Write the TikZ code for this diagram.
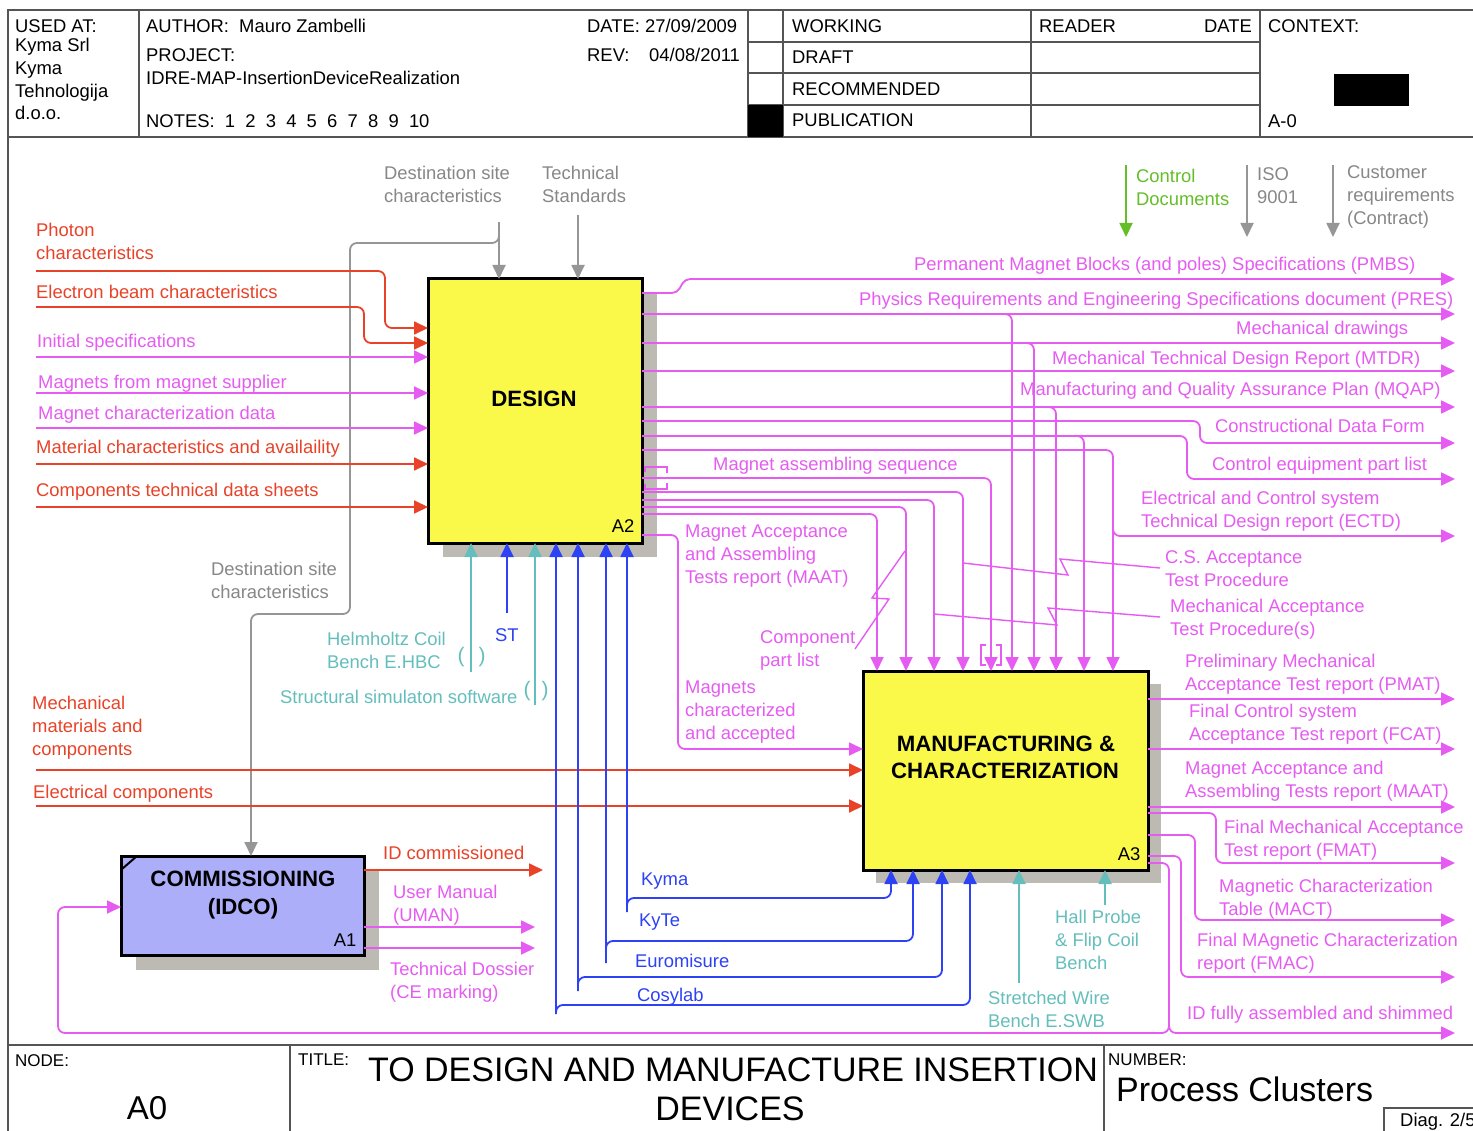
\documentclass[tikz,border=0pt]{standalone}
\usepackage{fontspec}
\setmainfont{Liberation Sans}
\usetikzlibrary{arrows.meta}
\definecolor{cred}{RGB}{232,66,40}
\definecolor{cmag}{RGB}{230,92,242}
\definecolor{cgray}{RGB}{150,150,150}
\definecolor{cgrayt}{RGB}{135,135,135}
\definecolor{cgreen}{RGB}{100,190,40}
\definecolor{cteal}{RGB}{100,190,188}
\definecolor{cblue}{RGB}{45,65,245}
\definecolor{cyel}{RGB}{250,248,72}
\definecolor{clav}{RGB}{172,174,250}
\definecolor{cshadow}{RGB}{188,186,178}
\definecolor{cframe}{RGB}{85,85,85}
\newcommand\lb{\fontsize{18.4}{23}\selectfont}
\newcommand\smf{\fontsize{17}{20}\selectfont}
\newcommand\bxf{\fontsize{22.2}{27}\selectfont\bfseries}
\newcommand\bigf{\fontsize{34}{39}\selectfont}
\newcommand\mylab[5]{\node[lbl,text=#2] (#1) at (#3,#4) {#5};}
\begin{document}
\begin{tikzpicture}[x=1pt,y=-1pt,
  con/.style={line width=1.8pt, rounded corners=7pt},
  arr/.style={con, -{Triangle[length=14pt,width=13pt]}},
  zig/.style={line width=1.4pt, cmag},
  lbl/.style={inner sep=0pt, anchor=north west, yshift=6.8pt, font=\lb, align=left},
  box/.style={draw=black, line width=3pt, inner sep=0pt, outer sep=0pt},
  frm/.style={draw=cframe, line width=2pt}]
\useasboundingbox (0,0) rectangle (1473,1131);
\fill[white] (0,0) rectangle (1473,1131);

% ---------- frame ----------
\draw[frm] (1473,10) -- (8,10) -- (8,1131);
\draw[frm] (8,137) -- (1473,137);
\draw[frm] (8,1045) -- (1473,1045);
\foreach \x in {139,748,783,1031,1260} \draw[frm] (\x,10) -- (\x,137);
\foreach \y in {42,73,105} \draw[frm] (748,\y) -- (1260,\y);
\fill (748,105) rectangle (783,137);
\fill (1334,74) rectangle (1409,106);
\draw[frm] (290,1045) -- (290,1131);
\draw[frm] (1104,1045) -- (1104,1131);
\draw[frm] (1384,1131) -- (1384,1108) -- (1473,1108);

% ---------- header texts ----------
\mylab{usedat}{black}{15}{26}{USED AT:}
\mylab{kymasrl}{black}{15}{45}{Kyma Srl}
\mylab{kymat}{black}{15}{68}{Kyma}
\mylab{tehno}{black}{15}{91}{Tehnologija}
\mylab{doo}{black}{15}{113}{d.o.o.}
\mylab{author}{black}{146}{26}{AUTHOR:\ \ Mauro Zambelli}
\mylab{project}{black}{146}{55}{PROJECT:}
\mylab{projname}{black}{146}{78}{IDRE-MAP-InsertionDeviceRealization}
\mylab{notes}{black}{146}{121}{NOTES:\ \ 1\ \ 2\ \ 3\ \ 4\ \ 5\ \ 6\ \ 7\ \ 8\ \ 9\ \ 10}
\mylab{date}{black}{587}{26}{DATE: 27/09/2009}
\mylab{rev}{black}{587}{55}{REV:}
\mylab{revd}{black}{649}{55}{04/08/2011}
\mylab{working}{black}{792}{26}{WORKING}
\mylab{draft}{black}{792}{57}{DRAFT}
\mylab{recomm}{black}{792}{89}{RECOMMENDED}
\mylab{public}{black}{792}{120}{PUBLICATION}
\mylab{reader}{black}{1039}{26}{READER}
\node[lbl, anchor=north east] (datecol) at (1252,26) {DATE};
\mylab{context}{black}{1268}{26}{CONTEXT:}
\mylab{azero}{black}{1268}{121}{A-0}

% ---------- footer ----------
\node[lbl, font=\smf] (nodelbl) at (15,1061) {NODE:};
\node[font=\fontsize{33}{38}\selectfont, anchor=base, inner sep=0pt] (nodeval) at (147,1119) {A0};
\node[lbl, font=\smf] (titlelbl) at (298,1060) {TITLE:};
\node[font=\bigf, anchor=base, inner sep=0pt] (title1) at (733,1081) {TO DESIGN AND MANUFACTURE INSERTION};
\node[font=\bigf, anchor=base, inner sep=0pt] (title2) at (730,1120) {DEVICES};
\node[lbl, font=\smf] (numberlbl) at (1108,1060) {NUMBER:};
\node[font=\bigf, anchor=base west, inner sep=0pt] (numberval) at (1116,1101) {Process Clusters};
\mylab{diag}{black}{1400}{1120}{Diag. 2/5}

% ---------- boxes ----------
\fill[cshadow] (443,293) rectangle (657,557);
\fill[cshadow] (876,684) rectangle (1161,883);
\fill[cshadow] (136,871) rectangle (379,970);
\node[box, fill=cyel, minimum width=214pt, minimum height=264pt] (design) at (535,411) {};
\node[box, fill=cyel, minimum width=285pt, minimum height=199pt] (manu) at (1005.5,770.5) {};
\node[box, fill=clav, minimum width=243pt, minimum height=99pt] (comm) at (242.5,905.5) {};
\draw[line width=2pt] (122,869) -- (137,856);
\node[font=\bxf, inner sep=0pt] (designlbl) at (534,399) {DESIGN};
\node[font=\bxf, inner sep=0pt, anchor=base] (manulbl1) at (1006,751) {MANUFACTURING \&};
\node[font=\bxf, inner sep=0pt, anchor=base] (manulbl2) at (1005,778) {CHARACTERIZATION};
\node[font=\bxf, inner sep=0pt, anchor=base] (commlbl1) at (243,886) {COMMISSIONING};
\node[font=\bxf, inner sep=0pt, anchor=base] (commlbl2) at (243,914) {(IDCO)};
\node[font=\lb, inner sep=0pt] (a2) at (623,526) {A2};
\node[font=\lb, inner sep=0pt] (a3) at (1129,854) {A3};
\node[font=\lb, inner sep=0pt] (a1) at (345,940) {A1};

% ---------- controls ----------
\draw[arr, cgray] (499,222) coordinate (dsc) -- (design.north -| 499,0);
\draw[arr, cgray] (499,232) -- (499,243) -- (350,243) -- (350,614) -- (251,614) -- (comm.north -| 251,0);
\draw[arr, cgray] (578,215) coordinate (tst) -- (design.north -| 578,0);
\draw[arr, cgreen] (1126,165) coordinate (cds) -- (1126,237) coordinate (cde);
\draw[arr, cgray] (1247,165) coordinate (isos) -- (1247,237) coordinate (isoe);
\draw[arr, cgray] (1333,165) coordinate (cuss) -- (1333,237) coordinate (cuse);

% ---------- inputs to DESIGN ----------
\draw[arr, cred] (36,271) coordinate (i1) -- (385,271) -- (385,328) -- (design.west |- 0,328);
\draw[arr, cred] (36,307) coordinate (i2) -- (364,307) -- (364,343) -- (design.west |- 0,343);
\draw[arr, cmag] (36,357) coordinate (i3) -- (design.west |- 0,357);
\draw[arr, cmag] (36,393) coordinate (i4) -- (design.west |- 0,393);
\draw[arr, cmag] (36,428) coordinate (i5) -- (design.west |- 0,428);
\draw[arr, cred] (36,464) coordinate (i6) -- (design.west |- 0,464);
\draw[arr, cred] (36,507) coordinate (i7) -- (design.west |- 0,507);

% ---------- outputs of DESIGN ----------
\draw[arr, cmag, rounded corners=5pt] (design.east |- 0,293) -- (677,293) -- (685,279) -- (1455,279) coordinate (o1);
\draw[arr, cmag] (design.east |- 0,314) -- (1455,314) coordinate (o2);
\draw[arr, cmag] (1000,314) -- (1012,314) -- (manu.north -| 1012,0);
\draw[arr, cmag] (design.east |- 0,343) -- (1455,343) coordinate (o3);
\draw[arr, cmag] (1022,343) -- (1034,343) -- (manu.north -| 1034,0);
\draw[arr, cmag] (design.east |- 0,371) -- (1455,371) coordinate (o4);
\draw[arr, cmag] (design.east |- 0,407) -- (1455,407) coordinate (o5);
\draw[arr, cmag] (1044,407) -- (1056,407) -- (manu.north -| 1056,0);
\draw[arr, cmag] (design.east |- 0,421) -- (1200,421) -- (1200,443) -- (1455,443) coordinate (o6);
\draw[arr, cmag] (design.east |- 0,436) -- (1187,436) -- (1187,479) -- (1455,479) coordinate (o7);
\draw[arr, cmag] (1072,436) -- (1084,436) -- (manu.north -| 1084,0);
\draw[arr, cmag] (design.east |- 0,450) -- (1113,450) -- (manu.north -| 1113,0);
\draw[arr, cmag] (1113,520) -- (1113,536) -- (1455,536) coordinate (o8);
\draw[arr, cmag] (design.east |- 0,478) -- (991,478) -- (manu.north -| 991,0);
\draw[arr, cmag] (design.east |- 0,492) -- (963,492) -- (manu.north -| 963,0);
\draw[arr, cmag] (design.east |- 0,500) -- (934,500) -- (manu.north -| 934,0);
\draw[arr, cmag] (design.east |- 0,507) -- (906,507) -- (manu.north -| 906,0);
\draw[arr, cmag] (design.east |- 0,514) -- (877,514) -- (manu.north -| 877,0);
\draw[arr, cmag] (design.east |- 0,535) -- (678,535) -- (678,749) -- (manu.west |- 0,749);

% tunnels and squiggles
\draw[cmag, line width=1.4pt] (645,472) -- (645,467) -- (667,467) -- (667,473);
\draw[cmag, line width=1.4pt] (645,484) -- (645,489) -- (667,489) -- (667,483);
\draw[cmag, line width=1.4pt] (986,645) -- (981,645) -- (981,665) -- (986,665);
\draw[cmag, line width=1.4pt] (996,645) -- (1001,645) -- (1001,665) -- (996,665);
\draw[zig] (855,649) -- (889,599) -- (872,598) -- (905,551);
\draw[zig] (1160,568) -- (1060,559) -- (1068,575) -- (963,563);
\draw[zig] (1160,617) -- (1048,608) -- (1057,625) -- (934,614);

% ---------- inputs to MANUFACTURING ----------
\draw[arr, cred] (36,770) coordinate (i8) -- (manu.west |- 0,770);
\draw[arr, cred] (36,806) coordinate (i9) -- (manu.west |- 0,806);

% ---------- outputs of MANUFACTURING ----------
\draw[arr, cmag] (manu.east |- 0,699) -- (1455,699) coordinate (m1);
\draw[arr, cmag] (manu.east |- 0,749) -- (1455,749) coordinate (m2);
\draw[arr, cmag] (manu.east |- 0,807) -- (1455,807) coordinate (m3);
\draw[arr, cmag] (manu.east |- 0,813) -- (1216,813) -- (1216,863) -- (1455,863) coordinate (m4);
\draw[arr, cmag] (manu.east |- 0,835) -- (1195,835) -- (1195,920) -- (1455,920) coordinate (m5);
\draw[arr, cmag] (manu.east |- 0,856) -- (1181,856) -- (1181,977) -- (1455,977) coordinate (m6);
\draw[arr, cmag] (manu.east |- 0,863) -- (1169,863) -- (1169,1033) -- (1455,1033) coordinate (m7);
\draw[arr, cmag] (1169,1020) -- (1169,1033) -- (58,1033) -- (58,907) -- (comm.west |- 0,907);

% ---------- outputs of COMMISSIONING ----------
\draw[arr, cred] (comm.east |- 0,870) -- (543,870) coordinate (c1);
\draw[arr, cmag] (comm.east |- 0,927) -- (535,927) coordinate (c2);
\draw[arr, cmag] (comm.east |- 0,948) -- (535,948) coordinate (c3);

% ---------- mechanisms ----------
\draw[arr, cteal] (471,672) coordinate (hhc) -- (design.south -| 471,0);
\draw[arr, cblue] (507,613) coordinate (st) -- (design.south -| 507,0);
\draw[arr, cteal] (535,705) coordinate (sss) -- (design.south -| 535,0);
\draw[arr, cblue] (556,1014) coordinate (cosy) -- (design.south -| 556,0);
\draw[arr, cblue] (cosy) -- (556,1005) -- (970,1005) -- (manu.south -| 970,0);
\draw[arr, cblue] (578,991) coordinate (euro) -- (design.south -| 578,0);
\draw[arr, cblue] (euro) -- (578,977) -- (942,977) -- (manu.south -| 942,0);
\draw[arr, cblue] (606,963) coordinate (kyte) -- (design.south -| 606,0);
\draw[arr, cblue] (kyte) -- (606,941) -- (913,941) -- (manu.south -| 913,0);
\draw[arr, cblue] (627,912) coordinate (kyma) -- (design.south -| 627,0);
\draw[arr, cblue] (kyma) -- (627,898) -- (891,898) -- (manu.south -| 891,0);
\draw[arr, cteal] (1019,983) coordinate (swb) -- (manu.south -| 1019,0);
\draw[arr, cteal] (1105,905) coordinate (hpf) -- (manu.south -| 1105,0);
\node[text=cteal, font=\fontsize{21}{24}\selectfont, inner sep=0pt] (p1) at (461,657) {(};
\node[text=cteal, font=\fontsize{21}{24}\selectfont, inner sep=0pt] (p2) at (482,657) {)};
\node[text=cteal, font=\fontsize{21}{24}\selectfont, inner sep=0pt] (p3) at (527,691) {(};
\node[text=cteal, font=\fontsize{21}{24}\selectfont, inner sep=0pt] (p4) at (545,691) {)};

% ---------- labels ----------
\mylab{lphoton}{cred}{36}{230}{Photon\\characteristics}
\mylab{lelectron}{cred}{36}{292}{Electron beam characteristics}
\mylab{linitial}{cmag}{37}{341}{Initial specifications}
\mylab{lmagsup}{cmag}{38}{382}{Magnets from magnet supplier}
\mylab{lmagchar}{cmag}{38}{413}{Magnet characterization data}
\mylab{lmaterial}{cred}{36}{447}{Material characteristics and availaility}
\mylab{lcomp}{cred}{36}{490}{Components technical data sheets}
\mylab{ldest}{cgrayt}{384}{173}{Destination site\\characteristics}
\mylab{ltech}{cgrayt}{542}{173}{Technical\\Standards}
\mylab{lcontrol}{cgreen}{1136}{176}{Control\\Documents}
\mylab{liso}{cgrayt}{1257}{174}{ISO\\9001}
\mylab{lcust}{cgrayt}{1347}{172}{Customer\\requirements\\(Contract)}
\mylab{lpmbs}{cmag}{914}{264}{Permanent Magnet Blocks (and poles) Specifications (PMBS)}
\mylab{lpres}{cmag}{859}{299}{Physics Requirements and Engineering Specifications document (PRES)}
\mylab{lmdraw}{cmag}{1236}{328}{Mechanical drawings}
\mylab{lmtdr}{cmag}{1052}{358}{Mechanical Technical Design Report (MTDR)}
\mylab{lmqap}{cmag}{1020}{389}{Manufacturing and Quality Assurance Plan (MQAP)}
\mylab{lcdf}{cmag}{1215}{426}{Constructional Data Form}
\mylab{lcepl}{cmag}{1212}{464}{Control equipment part list}
\mylab{lectd}{cmag}{1141}{498}{Electrical and Control system\\Technical Design report (ECTD)}
\mylab{lmas}{cmag}{713}{464}{Magnet assembling sequence}
\mylab{lmaat}{cmag}{685}{531}{Magnet Acceptance\\and Assembling\\Tests report (MAAT)}
\mylab{lcsat}{cmag}{1165}{557}{C.S. Acceptance\\Test Procedure}
\mylab{lmatp}{cmag}{1170}{606}{Mechanical Acceptance\\Test Procedure(s)}
\mylab{lcpl}{cmag}{760}{637}{Component\\part list}
\mylab{lmca}{cmag}{685}{687}{Magnets\\characterized\\and accepted}
\mylab{lpmat}{cmag}{1185}{661}{Preliminary Mechanical\\Acceptance Test report (PMAT)}
\mylab{lfcat}{cmag}{1189}{711}{Final Control system\\Acceptance Test report (FCAT)}
\mylab{lmaat2}{cmag}{1185}{768}{Magnet Acceptance and\\Assembling Tests report (MAAT)}
\mylab{lfmat}{cmag}{1224}{827}{Final Mechanical Acceptance\\Test report (FMAT)}
\mylab{lmact}{cmag}{1219}{886}{Magnetic Characterization\\Table (MACT)}
\mylab{lfmac}{cmag}{1197}{940}{Final MAgnetic Characterization\\report (FMAC)}
\mylab{lidfa}{cmag}{1187}{1013}{ID fully assembled and shimmed}
\mylab{ldest2}{cgrayt}{211}{569}{Destination site\\characteristics}
\mylab{lhhc}{cteal}{327}{639}{Helmholtz Coil\\Bench E.HBC}
\mylab{lst}{cblue}{495}{635}{ST}
\mylab{lsss}{cteal}{280}{697}{Structural simulaton software}
\mylab{lmmc}{cred}{32}{703}{Mechanical\\materials and\\components}
\mylab{lelc}{cred}{33}{792}{Electrical components}
\mylab{lidc}{cred}{383}{853}{ID commissioned}
\mylab{luman}{cmag}{393}{892}{User Manual\\(UMAN)}
\mylab{ltdos}{cmag}{390}{969}{Technical Dossier\\(CE marking)}
\mylab{lkyma}{cblue}{641}{879}{Kyma}
\mylab{lkyte}{cblue}{639}{920}{KyTe}
\mylab{leuro}{cblue}{635}{961}{Euromisure}
\mylab{lcosy}{cblue}{637}{995}{Cosylab}
\mylab{lhpf}{cteal}{1055}{917}{Hall Probe\\\& Flip Coil\\Bench}
\mylab{lswb}{cteal}{988}{998}{Stretched Wire\\Bench E.SWB}
\end{tikzpicture}
\end{document}
